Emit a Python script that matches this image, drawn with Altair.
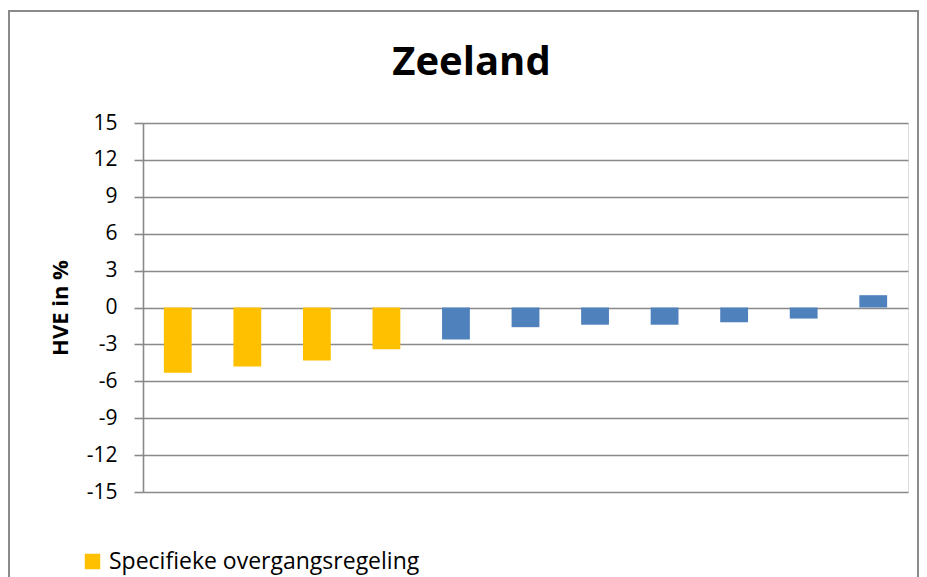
import altair as alt
import pandas as pd

categories = [str(i) for i in range(1, 12)]
values = [-5.3, -4.8, -4.3, -3.4, -2.6, -1.6, -1.4, -1.4, -1.2, -0.9, 1.0]
groups = ["Specifieke overgangsregeling"] * 4 + ["Overig"] * 7
tick_values = [-15, -12, -9, -6, -3, 0, 3, 6, 9, 12, 15]

df = pd.DataFrame({"cat": categories, "value": values, "group": groups})

FONT = "Open Sans"
GRID = "#898989"

bars = alt.Chart(df).mark_bar().encode(
    x=alt.X("cat:N", sort=categories, axis=None,
            scale=alt.Scale(paddingInner=0.6, paddingOuter=0.3)),
    y=alt.Y("value:Q",
            scale=alt.Scale(domain=[-15, 15], nice=False),
            axis=alt.Axis(values=tick_values, title="HVE in %", grid=True,
                          labelExpr="'' + datum.value",
                          gridColor=GRID, gridWidth=1.6, domainColor=GRID,
                          domainWidth=1.6, tickColor=GRID, tickWidth=1.6,
                          tickSize=9, labelPadding=17, labelFontSize=21,
                          labelFont=FONT, labelColor="black",
                          titleFont=FONT, titleFontSize=22, titleFontWeight="bold",
                          titleColor="black", titlePadding=14)),
    color=alt.Color("group:N",
                    scale=alt.Scale(domain=["Specifieke overgangsregeling", "Overig"],
                                    range=["#FFC000", "#4F81BD"]),
                    legend=alt.Legend(values=["Specifieke overgangsregeling"], title=None,
                                      orient="none", legendX=-62, legendY=427,
                                      symbolType="square", symbolSize=240,
                                      symbolStrokeWidth=0, labelFont=FONT,
                                      labelFontSize=23, labelColor="black",
                                      labelLimit=0, labelOffset=5, padding=0)),
)

frame = alt.Chart(df).mark_rect(filled=False, stroke="#8a8a8a", strokeWidth=2, clip=False).encode(
    x=alt.value(-134), x2=alt.value(775), y=alt.value(-112), y2=alt.value(480)
)

chart = alt.layer(bars, frame).properties(
    width=765, height=369,
    padding={"left": 135, "top": 115, "right": 11, "bottom": 85},
    autosize=alt.AutoSizeParams(type="none"),
    title=alt.TitleParams("Zeeland", font=FONT, fontSize=40, fontWeight="bold",
                          color="black", anchor="middle", dx=-54, offset=-105,
                          baseline="alphabetic"),
).configure_view(stroke=None).configure(background="white")

chart.save("out.html", embed_options={"renderer": "svg", "actions": False})
